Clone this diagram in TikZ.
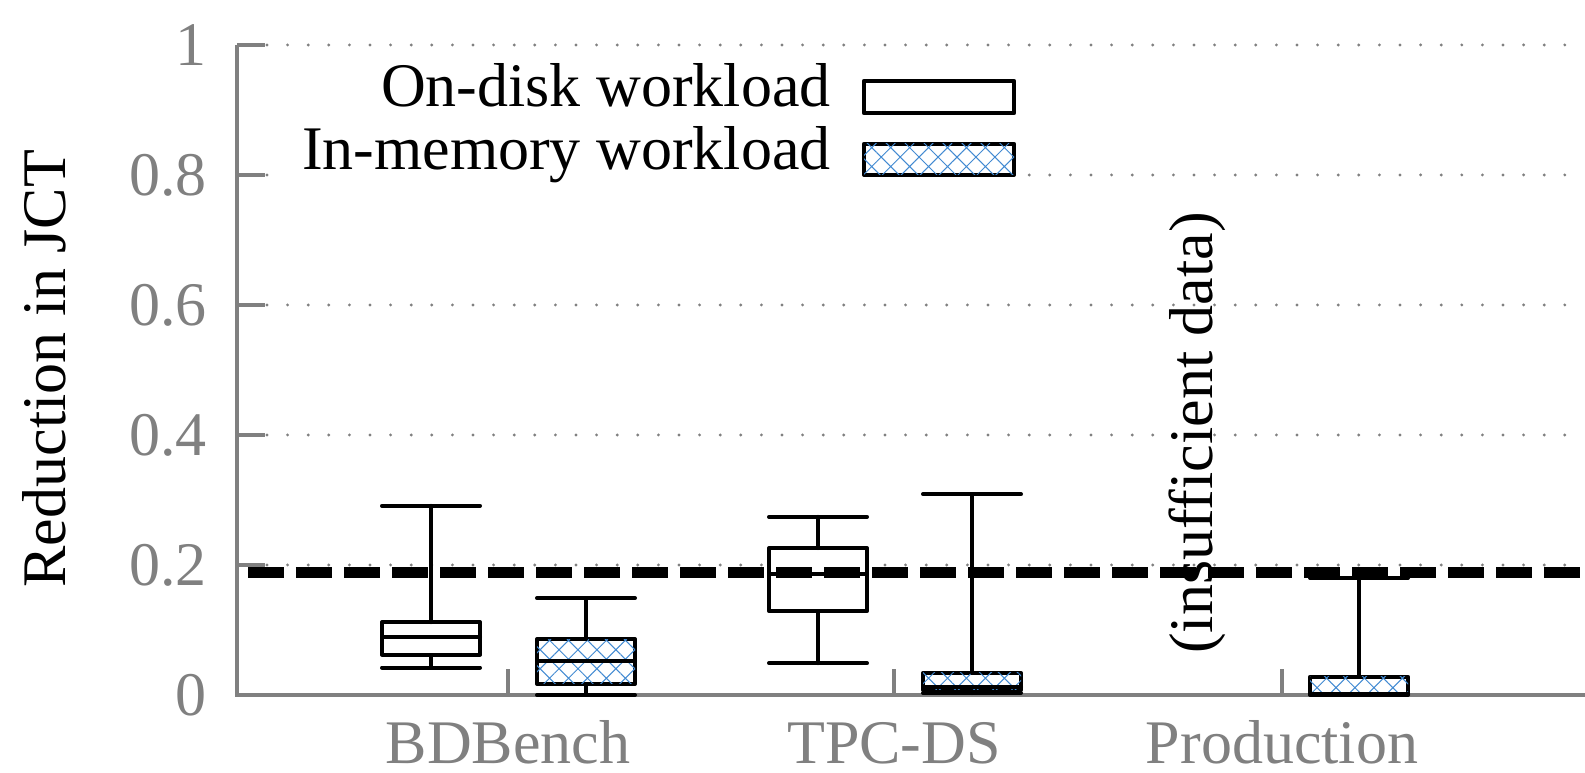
\documentclass[tikz,border=0pt]{standalone}
\usepackage{fontspec}
\setmainfont{Liberation Serif}
\usepackage{tikz}
\usetikzlibrary{patterns.meta}
\usetikzlibrary{calc}

\definecolor{axisgray}{RGB}{128,128,128}
\definecolor{hatchblue}{RGB}{66,138,210}

\tikzset{
  axisline/.style={draw=axisgray, line width=2pt},
  gridline/.style={draw=axisgray, line width=1.6pt, line cap=round, dash pattern=on 0pt off 10.3pt},
  boxline/.style={draw=black, line width=2pt, line cap=round, line join=round},
  meanline/.style={draw=black, line width=5.5pt, dash pattern=on 18pt off 6pt},
  diskfill/.style={fill=white},
  memfill/.style={fill=white, postaction={pattern={Hatch[angle=45,distance=6.7pt,line width=0.5pt]}, pattern color=hatchblue}},
  bigtext/.style={font=\fontsize{31}{36}\selectfont},
  ticklabel/.style={bigtext, text=axisgray, inner sep=0pt},
}

% #1 centre, #2 low, #3 q1, #4 median, #5 q3, #6 high, #7 fill
\newcommand{\jctbox}[7]{%
  \draw[boxline] (#1-49,#2) -- (#1+49,#2);
  \draw[boxline] (#1,#2) -- (#1,#3);
  \draw[boxline,#7] (#1-49,#3) rectangle (#1+49,#5);
  \draw[boxline] (#1-49,#4) -- (#1+49,#4);
  \draw[boxline] (#1,#5) -- (#1,#6);
  \draw[boxline] (#1-49,#6) -- (#1+49,#6);
}

\begin{document}
\begin{tikzpicture}[x=0.5pt, y=325pt]
\useasboundingbox (-237,-0.12) rectangle (1348,1.0692);

% grid and axes
\foreach \v in {0.2,0.4,0.6,0.8,1} {
  \draw[gridline] (30,\v) -- (1348,\v);
  \draw[axisline] (0,\v) -- (28,\v);
}
\draw[axisline] (0,1) -- (0,0) -- (1348,0);
\foreach \x in {271,657,1045}
  \draw[axisline] (\x,0) -- (\x,0.04);

\foreach \v/\t [count=\i] in {0/0,0.2/0.2,0.4/0.4,0.6/0.6,0.8/0.8,1/1}
  \node[ticklabel, anchor=east] (tick\i) at (-30,\v) {\t};

\node[bigtext, rotate=90] (ylab) at (-193,0.502) {Reduction in JCT};

\node[ticklabel, anchor=base] (bdb) at (271,-0.106) {BDBench};
\node[ticklabel, anchor=base] (tpc) at (657,-0.106) {TPC-DS};
\node[ticklabel, anchor=base] (prod) at (1045,-0.106) {Production};

% legend
\fill[white] (32,0.97) rectangle (790,0.78);
\node[bigtext, anchor=base east, inner sep=0pt] (ondisk) at (594,0.906) {On-disk workload};
\node[bigtext, anchor=base east, inner sep=0pt] (inmem) at (594,0.809) {In-memory workload};
\draw[boxline,diskfill] (627,0.895) rectangle (777,0.945);
\draw[boxline,memfill] (627,0.800) rectangle (777,0.848);

% boxes
\jctbox{194}{0.042}{0.062}{0.089}{0.112}{0.291}{diskfill}
\jctbox{349}{0.0}{0.017}{0.052}{0.086}{0.149}{memfill}
\jctbox{581}{0.049}{0.129}{0.186}{0.226}{0.274}{diskfill}
\jctbox{735}{0.003}{0.008}{0.013}{0.034}{0.309}{memfill}
\jctbox{1122}{0.0}{0.002}{0.002}{0.028}{0.180}{memfill}

\node[bigtext, rotate=90] (insuff) at (960,0.403) {(insufficient data)};

\draw[meanline] (11,0.189) -- (1348,0.189);

\end{tikzpicture}
\end{document}
